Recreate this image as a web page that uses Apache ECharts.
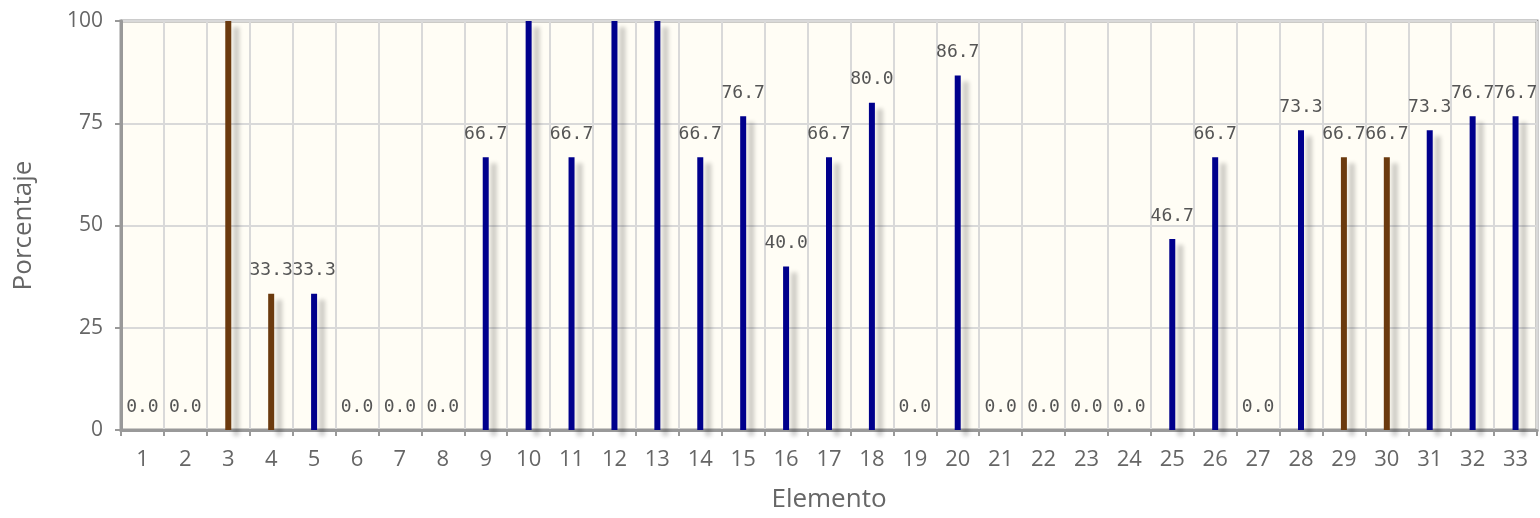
<!DOCTYPE html>
<html>
<head>
<meta charset="utf-8">
<script src="https://cdn.jsdelivr.net/npm/echarts@6/dist/echarts.min.js"></script>
<style>
html,body{margin:0;padding:0;background:#fff;}
#chart{width:1540px;height:518px;}
</style>
</head>
<body>
<div id="chart"></div>
<script>
const categories = ['1','2','3','4','5','6','7','8','9','10','11','12','13','14','15','16','17','18','19','20','21','22','23','24','25','26','27','28','29','30','31','32','33'];
const values = [0,0,100,33.3,33.3,0,0,0,66.7,100,66.7,100,100,66.7,76.7,40.0,66.7,80.0,0,86.7,0,0,0,0,46.7,66.7,0,73.3,66.7,66.7,73.3,76.7,76.7];
const groups = ['b','b','r','r','b','b','b','b','b','b','b','b','b','b','b','b','b','b','b','b','b','b','b','b','b','b','b','b','r','r','b','b','b'];
const yTicks = [0,25,50,75,100];
const palette = {b:'#00008c', r:'#6b3a0e'};

const chart = echarts.init(document.getElementById('chart'));
const data = values.map((v,i)=>({
  value: v,
  itemStyle:{color: palette[groups[i]]},
  label:{show: v < 100}
}));
chart.setOption({
  animation:false,
  grid:{left:121,right:3,top:21,bottom:88,outerBoundsMode:'none',containLabel:false,show:true,backgroundColor:'#fffdf5',borderColor:'#999',borderWidth:3},
  xAxis:{
    type:'category', data:categories,
    name:'Elemento', nameLocation:'middle', nameGap:57,
    nameTextStyle:{fontFamily:'Open Sans',fontSize:26,color:'#666'},
    axisLine:{lineStyle:{color:'#999',width:3}},
    axisTick:{show:true,length:6,lineStyle:{color:'#999',width:2}},
    axisLabel:{fontFamily:'Open Sans',fontSize:22,color:'#666',margin:19},
    splitLine:{show:true,lineStyle:{color:'#d9d9d9',width:2}}
  },
  yAxis:{
    type:'value', min:yTicks[0], max:yTicks[yTicks.length-1], interval:25,
    name:'Porcentaje', nameLocation:'middle', nameGap:84,
    nameTextStyle:{fontFamily:'Open Sans',fontSize:26,color:'#666'},
    axisLine:{show:true,lineStyle:{color:'#999',width:3}},
    axisTick:{show:true,length:6,lineStyle:{color:'#999',width:2}},
    axisLabel:{fontFamily:'Open Sans',fontSize:21,color:'#666',margin:18},
    splitLine:{show:true,lineStyle:{color:'#d9d9d9',width:2}}
  },
  series:[{
    type:'bar', data:data, barWidth:6,
    itemStyle:{shadowColor:'rgba(0,0,0,0.2)',shadowOffsetX:8,shadowOffsetY:6,shadowBlur:4},
    label:{show:true,position:'top',distance:14,fontFamily:'DejaVu Sans Mono',fontSize:18,color:'#555',
      formatter:p=>p.value.toFixed(1)}
  }]
});
</script>
</body>
</html>
